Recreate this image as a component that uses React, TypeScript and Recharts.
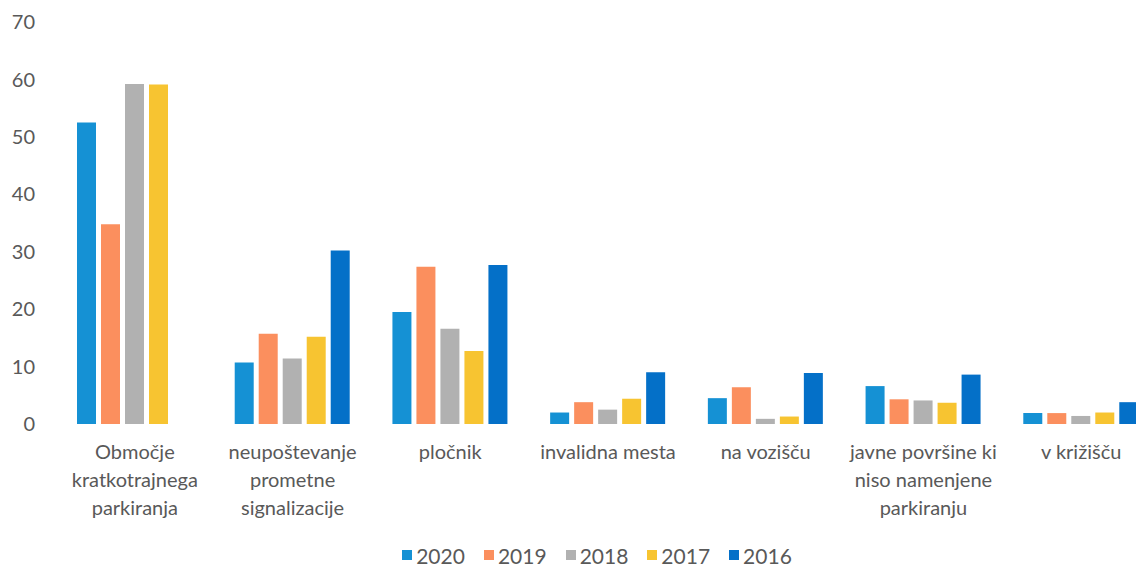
import React from 'react';
import { BarChart, Bar, XAxis, YAxis, Legend } from 'recharts';

const categories = [
  'Območje\nkratkotrajnega\nparkiranja',
  'neupoštevanje\nprometne\nsignalizacije',
  'pločnik',
  'invalidna mesta',
  'na vozišču',
  'javne površine ki\nniso namenjene\nparkiranju',
  'v križišču',
];

const years = ['2020', '2019', '2018', '2017', '2016'];
const colors = ['#1591d4', '#fb8f5e', '#b1b1b1', '#f7c431', '#0470c8'];

const v2020 = [52.5, 10.7, 19.5, 2.0, 4.5, 6.6, 1.9];
const v2019 = [34.8, 15.7, 27.4, 3.8, 6.4, 4.3, 1.9];
const v2018 = [59.2, 11.4, 16.6, 2.5, 0.9, 4.1, 1.4];
const v2017 = [59.1, 15.2, 12.7, 4.4, 1.3, 3.7, 2.0];
const v2016 = [0, 30.2, 27.7, 9.0, 8.9, 8.6, 3.8];

const yTicks = [0, 10, 20, 30, 40, 50, 60, 70];

const series = [v2020, v2019, v2018, v2017, v2016];

const data = categories.map((name, i) => {
  const row: Record<string, string | number> = { name };
  years.forEach((y, k) => {
    row[y] = series[k][i];
  });
  return row;
});

const FONT = 'Lato, "Open Sans", sans-serif';
const TEXT = '#595959';

const CategoryTick = (props: any) => {
  const { x, y, payload } = props;
  const lines = String(payload.value).split('\n');
  return (
    <text x={x} y={y} textAnchor="middle" fill={TEXT} fontSize={20} fontFamily={FONT}>
      {lines.map((line, i) => (
        <tspan key={i} x={x} dy={i === 0 ? 35 : 28}>
          {line}
        </tspan>
      ))}
    </text>
  );
};

const LegendContent = () => (
  <div
    style={{
      display: 'flex',
      justifyContent: 'center',
      alignItems: 'center',
      height: 34,
      paddingTop: 8,
      paddingLeft: 34,
      boxSizing: 'border-box',
      fontFamily: FONT,
      fontSize: 21,
      color: TEXT,
    }}
  >
    {years.map((y, k) => (
      <div key={y} style={{ display: 'flex', alignItems: 'center', marginRight: k < years.length - 1 ? 19 : 0 }}>
        <span style={{ width: 10, height: 10, background: colors[k], display: 'inline-block', marginRight: 4 }} />
        <span>{y}</span>
      </div>
    ))}
  </div>
);

export default function App() {
  return (
    <div style={{ position: 'absolute', left: 0, top: 0, width: 1136, height: 568, overflow: 'hidden', background: '#fff' }}>
      <BarChart
        width={1180}
        height={568}
        data={data}
        margin={{ top: 22, right: 20, bottom: 0, left: 0 }}
        barCategoryGap={21}
        barGap={5}
      >
        <XAxis
          dataKey="name"
          axisLine={false}
          tickLine={false}
          tickSize={0}
          tickMargin={0}
          interval={0}
          height={110}
          tick={<CategoryTick />}
        />
        <YAxis
          domain={[0, 70]}
          ticks={yTicks}
          axisLine={false}
          tickLine={false}
          tickSize={0}
          tickMargin={21}
          width={56}
          tick={{ fill: TEXT, fontSize: 20, fontFamily: FONT }}
        />
        <Legend verticalAlign="bottom" height={34} content={<LegendContent />} />
        {years.map((y, k) => (
          <Bar key={y} dataKey={y} fill={colors[k]} isAnimationActive={false} />
        ))}
      </BarChart>
    </div>
  );
}
